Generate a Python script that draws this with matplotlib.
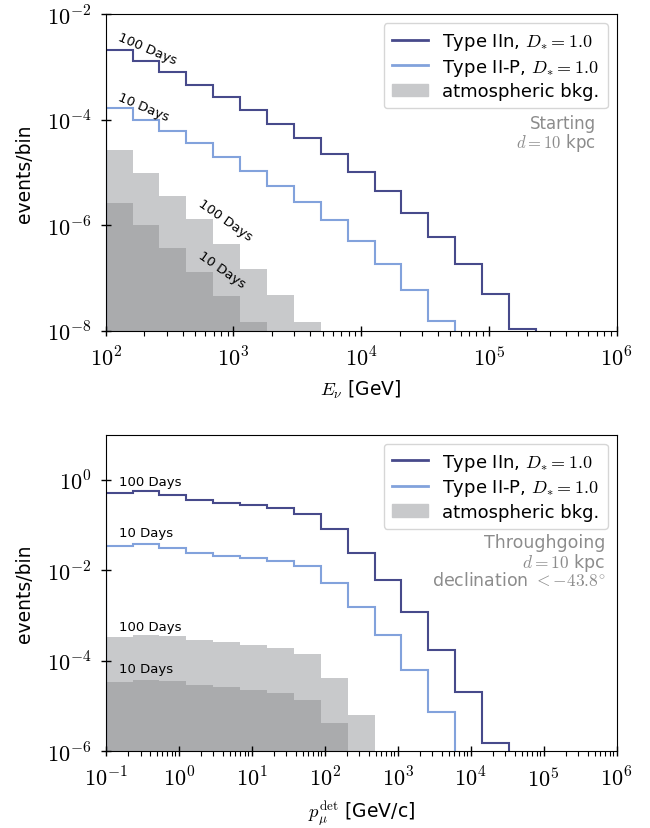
import numpy as np
import matplotlib
matplotlib.use("Agg")
import matplotlib.pyplot as plt
from matplotlib.lines import Line2D
from matplotlib.patches import Patch
from matplotlib.ticker import FuncFormatter, FixedLocator, LogLocator, NullLocator

plt.rcParams['font.family'] = ['DejaVu Sans']
plt.rcParams['mathtext.fontset'] = 'cm'
plt.rcParams['font.size'] = 13.5

# bin edges (log-spaced) for the two panels
e_edges = np.logspace(2, 6, 20)
p_edges = np.logspace(-1, 6, 20)

# starting events, events/bin vs E_nu
start_IIn = [2.07e-3, 1.28e-3, 7.8e-4, 4.55e-4, 2.7e-4, 1.52e-4, 8.4e-5, 4.4e-5,
             2.2e-5, 1.01e-5, 4.4e-6, 1.72e-6, 5.9e-7, 1.85e-7, 5.0e-8, 1.05e-8]
start_IIP = [1.66e-4, 1.0e-4, 5.93e-5, 3.51e-5, 1.95e-5, 1.06e-5, 5.5e-6, 2.69e-6,
             1.23e-6, 4.97e-7, 1.85e-7, 5.75e-8, 1.5e-8]
start_bkg100 = [2.65e-5, 9.86e-6, 3.56e-6, 1.28e-6, 4.43e-7, 1.48e-7, 4.79e-8, 1.44e-8]
start_bkg10 = [2.66e-6, 1.0e-6, 3.62e-7, 1.28e-7, 4.43e-8, 1.44e-8]

# throughgoing events, events/bin vs p_mu
thru_IIn = [0.507, 0.552, 0.451, 0.361, 0.31, 0.28, 0.236, 0.177, 0.0824, 0.0243,
            6.24e-3, 1.2e-3, 1.74e-4, 2.02e-5, 1.5e-6]
thru_IIP = [0.0341, 0.0385, 0.0313, 0.0247, 0.0212, 0.0188, 0.0164, 0.0127, 5.27e-3,
            1.53e-3, 3.73e-4, 6.38e-5, 7.52e-6]
thru_bkg100 = [3.43e-4, 3.79e-4, 3.6e-4, 2.94e-4, 2.65e-4, 2.24e-4, 1.96e-4, 1.4e-4,
               4.18e-5, 6.21e-6]
thru_bkg10 = [3.41e-5, 3.84e-5, 3.53e-5, 2.97e-5, 2.64e-5, 2.31e-5, 1.95e-5, 1.39e-5,
              4.16e-6]

c_IIn = '#474a8b'
c_IIP = '#82a2dc'
c_bkg_light = '#c8c9cb'
c_bkg_dark = '#aaabad'
c_note = '#8c8c8c'

fig = plt.figure(figsize=(6.5, 8.29), dpi=100)
ax1 = fig.add_axes([0.1626, 0.6001, 0.786, 0.3818])
ax2 = fig.add_axes([0.1626, 0.0925, 0.786, 0.3821])

pow_fmt = FuncFormatter(lambda v, pos: r'$10^{%d}$' % round(np.log10(v)))


def draw_panel(ax, edges, IIn, IIP, bkg100, bkg10, ylim):
    base = 1e-30
    ax.stairs(bkg100, edges[:len(bkg100) + 1], baseline=base, fill=True,
              color=c_bkg_light, lw=0)
    ax.stairs(bkg10, edges[:len(bkg10) + 1], baseline=base, fill=True,
              color=c_bkg_dark, lw=0)
    ax.stairs(IIP, edges[:len(IIP) + 1], baseline=base, color=c_IIP, lw=1.5)
    ax.stairs(IIn, edges[:len(IIn) + 1], baseline=base, color=c_IIn, lw=1.5)
    ax.set_xscale('log')
    ax.set_yscale('log')
    ax.set_ylim(*ylim)
    ax.set_ylabel('events/bin', labelpad=9)
    ax.tick_params(axis='both', which='major', direction='inout', length=7, width=1,
                   labelsize=16, pad=7)
    ax.tick_params(axis='x', which='minor', direction='out', length=3.5, width=0.8)
    ax.yaxis.set_minor_locator(NullLocator())
    ax.xaxis.set_major_formatter(pow_fmt)
    ax.yaxis.set_major_formatter(pow_fmt)
    handles = [Line2D([], [], color=c_IIn, lw=2),
               Line2D([], [], color=c_IIP, lw=2),
               Patch(color=c_bkg_light)]
    labels = [r'Type IIn, $D_{*} = 1.0$', r'Type II-P, $D_{*} = 1.0$',
              'atmospheric bkg.']
    ax.legend(handles, labels, loc='upper right', fontsize=13, labelspacing=0.25,
              borderpad=0.45)


# top panel: starting events
draw_panel(ax1, e_edges, start_IIn, start_IIP, start_bkg100, start_bkg10, (1e-8, 1e-2))
ax1.set_xlim(1e2, 1e6)
ax1.set_xlabel(r'$E_\nu$ [GeV]', labelpad=6)
ax1.yaxis.set_major_locator(LogLocator(base=100))
ax1.text(123.7, 3.35e-3, '100 Days', rotation=-23, rotation_mode='anchor',
         ha='left', va='baseline', fontsize=9.5)
ax1.text(123.7, 2.43e-4, '10 Days', rotation=-23, rotation_mode='anchor',
         ha='left', va='baseline', fontsize=9.5)
ax1.text(521, 2.47e-6, '100 Days', rotation=-35, rotation_mode='anchor',
         ha='left', va='baseline', fontsize=9.5)
ax1.text(521, 2.58e-7, '10 Days', rotation=-35, rotation_mode='anchor',
         ha='left', va='baseline', fontsize=9.5)
ax1.text(0.959, 0.639, 'Starting', transform=ax1.transAxes, ha='right',
         va='baseline', color=c_note, fontsize=12)
ax1.text(0.959, 0.58, r'$d = 10$ kpc', transform=ax1.transAxes, ha='right',
         va='baseline', color=c_note, fontsize=12)

# bottom panel: throughgoing events
draw_panel(ax2, p_edges, thru_IIn, thru_IIP, thru_bkg100, thru_bkg10, (1e-6, 1e1))
ax2.set_xlim(1e-1, 1e6)
ax2.set_xlabel(r'$p_\mu^{\mathrm{det}}$ [GeV/c]', labelpad=6)
ax2.yaxis.set_major_locator(FixedLocator([1e-6, 1e-4, 1e-2, 1e0]))
ax2.xaxis.set_major_locator(LogLocator(base=10, numticks=20))
ax2.text(0.152, 0.776, '100 Days', ha='left', va='baseline', fontsize=9.5)
ax2.text(0.152, 0.0586, '10 Days', ha='left', va='baseline', fontsize=9.5)
ax2.text(0.152, 4.82e-4, '100 Days', ha='left', va='baseline', fontsize=9.5)
ax2.text(0.152, 5.77e-5, '10 Days', ha='left', va='baseline', fontsize=9.5)
ax2.text(0.9775, 0.6435, 'Throughgoing', transform=ax2.transAxes, ha='right',
         va='baseline', color=c_note, fontsize=12.5)
ax2.text(0.9775, 0.5823, r'$d = 10$ kpc', transform=ax2.transAxes, ha='right',
         va='baseline', color=c_note, fontsize=12.5)
ax2.text(0.9775, 0.5256, r'declination $< -43.8^{\circ}$', transform=ax2.transAxes,
         ha='right', va='baseline', color=c_note, fontsize=12.5)

fig.savefig('out.png', dpi=100)
